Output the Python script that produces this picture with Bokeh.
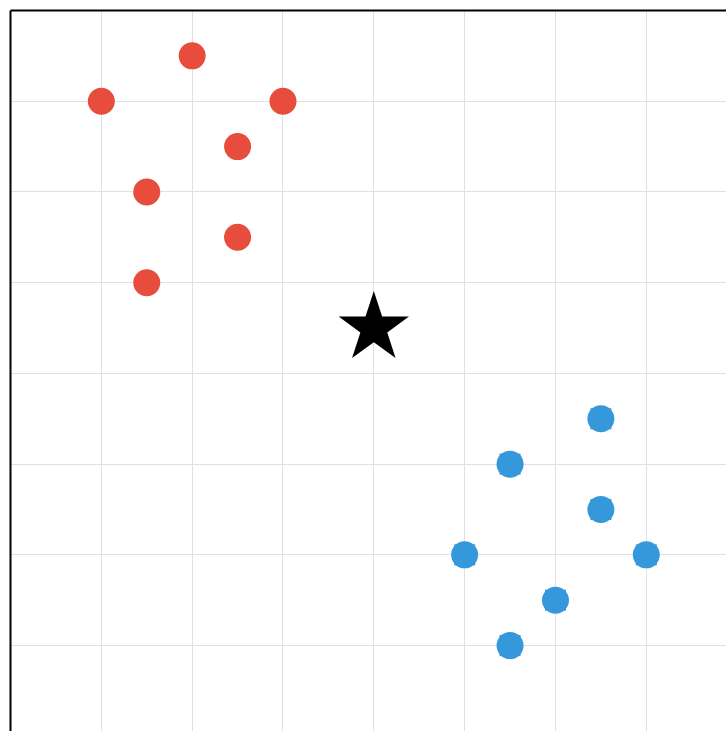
from bokeh.plotting import figure
from bokeh.models import FixedTicker, Range1d
from bokeh.embed import file_html
from bokeh.resources import INLINE

# data
red_x = [2, 1, 3, 2.5, 1.5, 2.5, 1.5]
red_y = [7.5, 7, 7, 6.5, 6, 5.5, 5]
blue_x = [6.5, 5.5, 6.5, 5, 7, 6, 5.5]
blue_y = [3.5, 3, 2.5, 2, 2, 1.5, 1]
star_x = [4]
star_y = [4.5]
grid_ticks = [0, 1, 2, 3, 4, 5, 6, 7, 8]

p = figure(width=726, height=731, output_backend="svg", toolbar_location=None,
           x_axis_location="above",
           x_range=Range1d(0, 7.883), y_range=Range1d(0.053, 8),
           min_border_left=10, min_border_top=10, min_border_right=0, min_border_bottom=0)
p.outline_line_color = None
p.background_fill_color = "white"
p.border_fill_color = "white"

for ax in (p.xaxis[0], p.yaxis[0]):
    ax.ticker = FixedTicker(ticks=[])
    ax.major_tick_line_color = None
    ax.minor_tick_line_color = None
    ax.major_tick_out = 0
    ax.major_tick_in = 0
    ax.axis_line_color = "black"
    ax.axis_line_width = 2

p.xgrid.ticker = FixedTicker(ticks=grid_ticks)
p.ygrid.ticker = FixedTicker(ticks=grid_ticks)
p.grid.grid_line_color = "#e0e0e0"
p.grid.grid_line_width = 1

p.scatter(red_x, red_y, marker="circle", size=27, fill_color="#E74C3C", line_color=None)
p.scatter(blue_x, blue_y, marker="square", size=21, fill_color="#3498DB", line_color=None)
p.scatter(blue_x, blue_y, marker="circle", size=27, fill_color="#3498DB", line_color=None)
p.scatter(star_x, star_y, marker="star", size=74, fill_color="black", line_color=None)

open("out.html", "w").write(file_html(p, INLINE))
